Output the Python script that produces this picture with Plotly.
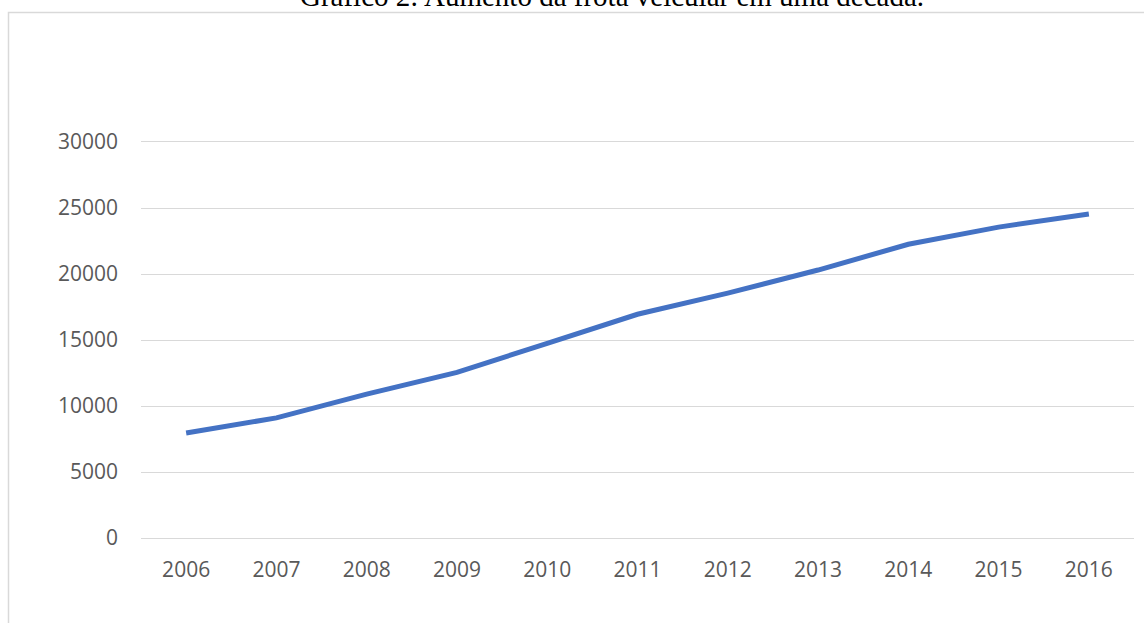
import plotly.graph_objects as go

years = ["2006", "2007", "2008", "2009", "2010", "2011", "2012", "2013", "2014", "2015", "2016"]
frota = [7950, 9100, 10900, 12550, 14750, 16950, 18550, 20300, 22250, 23550, 24550]
y_ticks = [0, 5000, 10000, 15000, 20000, 25000, 30000]
title_text = "Gráfico 2: Aumento da frota veicular em uma década."

W, H = 1144, 623
L, R, T, B = 141, 10, 142, 85
pw, ph = W - L - R, H - T - B

fig = go.Figure()
fig.add_trace(go.Scatter(
    x=years, y=frota, mode="lines",
    line=dict(color="#4472C4", width=5),
    hoverinfo="x+y", showlegend=False,
))

def px_x(x):
    return (x - L) / pw

def px_y(y):
    return (H - B - y) / ph

fig.add_shape(type="rect", xref="paper", yref="paper",
              x0=px_x(8.5), x1=px_x(1160), y0=px_y(640), y1=px_y(12.5),
              line=dict(color="#d9d9d9", width=1.5), fillcolor="rgba(0,0,0,0)", layer="below")

fig.update_layout(
    width=W, height=H,
    margin=dict(l=L, r=R, t=T, b=B),
    paper_bgcolor="white", plot_bgcolor="white",
    title=dict(text=title_text, x=612 / W, xanchor="center", xref="container",
               yref="container", y=1 - 6 / H, yanchor="bottom",
               font=dict(family="Liberation Serif", size=29, color="black")),
    xaxis=dict(type="category", categoryorder="array", categoryarray=years,
               range=[-0.5, 10.5], showgrid=False, zeroline=False,
               showline=True, mirror=True, linecolor="#d9d9d9", linewidth=1.3,
               ticks="", ticklabelstandoff=13,
               tickfont=dict(family="Open Sans", size=21, color="#595959"),
               fixedrange=True),
    yaxis=dict(range=[0, 30000], tickvals=y_ticks, ticktext=[str(v) for v in y_ticks],
               showgrid=True, gridcolor="#d9d9d9", gridwidth=1.3, zeroline=False,
               showline=False, ticks="", ticklabelstandoff=22,
               tickfont=dict(family="Open Sans", size=21, color="#595959"),
               fixedrange=True),
)

fig.write_html("out.html")
